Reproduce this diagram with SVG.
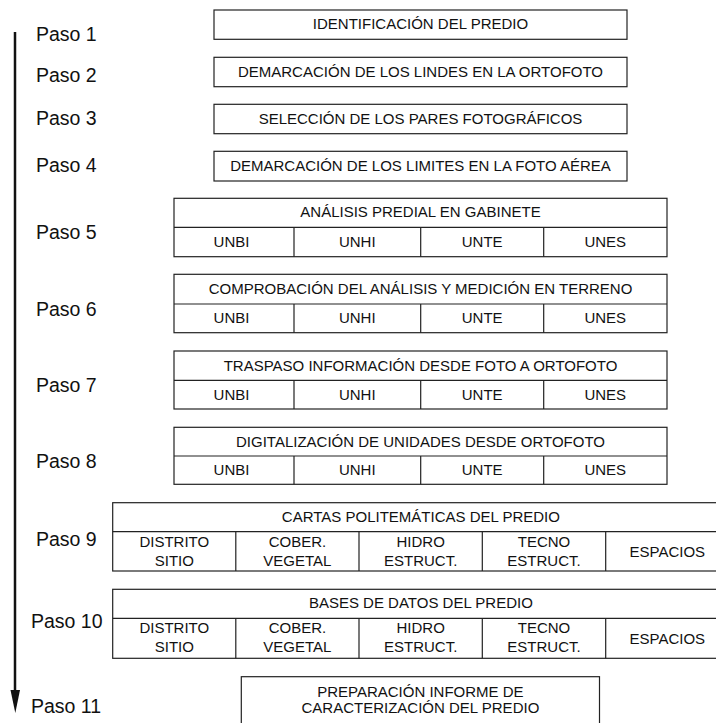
<svg xmlns="http://www.w3.org/2000/svg" width="716" height="723" viewBox="0 0 716 723">
<style>
.b{fill:#fff;stroke:#222;stroke-width:1.2}
.l{stroke:#222;stroke-width:1.2;fill:none}
.t{font-family:"Liberation Sans",Arial,sans-serif;font-size:15px;fill:#111;text-anchor:middle}
.p{font-family:"Liberation Sans",Arial,sans-serif;font-size:19.5px;fill:#111}
</style>
<defs>
<marker id="ah" markerWidth="10" markerHeight="24" refX="5" refY="23" orient="auto" markerUnits="userSpaceOnUse" viewBox="0 0 10 24">
<path d="M0,0 L10,0 L5,23 Z" fill="#111"/>
</marker>
</defs>
<rect width="716" height="723" fill="#fff"/>
<g id="connectors">
<line x1="15" y1="32" x2="15" y2="690" stroke="#111" stroke-width="2.5"/>
<path d="M10.5,690 L20,690 L15.3,713 Z" fill="#111"/>
</g>
<g id="labels">
<text class="p" x="36" y="40.5">Paso 1</text>
<text class="p" x="36" y="82.3">Paso 2</text>
<text class="p" x="36" y="125">Paso 3</text>
<text class="p" x="36" y="172.3">Paso 4</text>
<text class="p" x="36" y="239.3">Paso 5</text>
<text class="p" x="36" y="316">Paso 6</text>
<text class="p" x="36" y="391.7">Paso 7</text>
<text class="p" x="36" y="468">Paso 8</text>
<text class="p" x="36" y="546">Paso 9</text>
<text class="p" x="31" y="628">Paso 10</text>
<text class="p" x="31" y="712.7">Paso 11</text>
</g>
<g id="paso1">
<rect class="b" x="214" y="10" width="413" height="29.3"/>
<text class="t" x="420.5" y="29.3">IDENTIFICACIÓN DEL PREDIO</text>
</g>
<g id="paso2">
<rect class="b" x="214" y="57.3" width="413" height="29.4"/>
<text class="t" x="420.5" y="77.2">DEMARCACIÓN DE LOS LINDES EN LA ORTOFOTO</text>
</g>
<g id="paso3">
<rect class="b" x="214" y="104.3" width="413" height="29.4"/>
<text class="t" x="420.5" y="124.2">SELECCIÓN DE LOS PARES FOTOGRÁFICOS</text>
</g>
<g id="paso4">
<rect class="b" x="214" y="151.3" width="413" height="29.7"/>
<text class="t" x="420.5" y="171.3">DEMARCACIÓN DE LOS LIMITES EN LA FOTO AÉREA</text>
</g>
<g id="paso5">
<rect class="b" x="174" y="198.3" width="493" height="58.4"/>
<path class="l" d="M174,227.3 H667 M294,227.3 V256.7 M420.7,227.3 V256.7 M543.7,227.3 V256.7"/>
<text class="t" x="420.5" y="217.3">ANÁLISIS PREDIAL EN GABINETE</text>
<text class="t" x="231.5" y="246.5">UNBI</text>
<text class="t" x="357.3" y="246.5">UNHI</text>
<text class="t" x="482.2" y="246.5">UNTE</text>
<text class="t" x="605.3" y="246.5">UNES</text>
</g>
<g id="paso6">
<rect class="b" x="174" y="274.3" width="493" height="58.4"/>
<path class="l" d="M174,304 H667 M294,304 V332.7 M420.7,304 V332.7 M543.7,304 V332.7"/>
<text class="t" x="420.5" y="294">COMPROBACIÓN DEL ANÁLISIS Y MEDICIÓN EN TERRENO</text>
<text class="t" x="231.5" y="323">UNBI</text>
<text class="t" x="357.3" y="323">UNHI</text>
<text class="t" x="482.2" y="323">UNTE</text>
<text class="t" x="605.3" y="323">UNES</text>
</g>
<g id="paso7">
<rect class="b" x="174" y="351" width="493" height="58"/>
<path class="l" d="M174,380.3 H667 M294,380.3 V409 M420.7,380.3 V409 M543.7,380.3 V409"/>
<text class="t" x="420.5" y="370.5">TRASPASO INFORMACIÓN DESDE FOTO A ORTOFOTO</text>
<text class="t" x="231.5" y="399.5">UNBI</text>
<text class="t" x="357.3" y="399.5">UNHI</text>
<text class="t" x="482.2" y="399.5">UNTE</text>
<text class="t" x="605.3" y="399.5">UNES</text>
</g>
<g id="paso8">
<rect class="b" x="174" y="427.3" width="493" height="57"/>
<path class="l" d="M174,456 H667 M294,456 V484.3 M420.7,456 V484.3 M543.7,456 V484.3"/>
<text class="t" x="420.5" y="446.5">DIGITALIZACIÓN DE UNIDADES DESDE ORTOFOTO</text>
<text class="t" x="231.5" y="475">UNBI</text>
<text class="t" x="357.3" y="475">UNHI</text>
<text class="t" x="482.2" y="475">UNTE</text>
<text class="t" x="605.3" y="475">UNES</text>
</g>
<g id="paso9">
<rect class="b" x="112.7" y="502.7" width="616.3" height="68.3"/>
<path class="l" d="M112.7,531.7 H729 M235.8,531.7 V571 M359,531.7 V571 M482.3,531.7 V571 M605.7,531.7 V571"/>
<text class="t" x="420.9" y="521.7">CARTAS POLITEMÁTICAS DEL PREDIO</text>
<text class="t" x="174.3" y="547.3">DISTRITO</text>
<text class="t" x="174.3" y="566">SITIO</text>
<text class="t" x="297.4" y="547.3">COBER.</text>
<text class="t" x="297.4" y="566">VEGETAL</text>
<text class="t" x="420.7" y="547.3">HIDRO</text>
<text class="t" x="420.7" y="566">ESTRUCT.</text>
<text class="t" x="544" y="547.3">TECNO</text>
<text class="t" x="544" y="566">ESTRUCT.</text>
<text class="t" x="667.3" y="556.7">ESPACIOS</text>
</g>
<g id="paso10">
<rect class="b" x="112.7" y="589.3" width="616.3" height="69"/>
<path class="l" d="M112.7,618.3 H729 M235.8,618.3 V658.3 M359,618.3 V658.3 M482.3,618.3 V658.3 M605.7,618.3 V658.3"/>
<text class="t" x="420.9" y="608.3">BASES DE DATOS DEL PREDIO</text>
<text class="t" x="174.3" y="633.3">DISTRITO</text>
<text class="t" x="174.3" y="652.3">SITIO</text>
<text class="t" x="297.4" y="633.3">COBER.</text>
<text class="t" x="297.4" y="652.3">VEGETAL</text>
<text class="t" x="420.7" y="633.3">HIDRO</text>
<text class="t" x="420.7" y="652.3">ESTRUCT.</text>
<text class="t" x="544" y="633.3">TECNO</text>
<text class="t" x="544" y="652.3">ESTRUCT.</text>
<text class="t" x="667.3" y="643.5">ESPACIOS</text>
</g>
<g id="paso11">
<rect class="b" x="241.3" y="676.7" width="358.2" height="60"/>
<text class="t" x="420.4" y="697.3">PREPARACIÓN INFORME DE</text>
<text class="t" x="420.4" y="712.7">CARACTERIZACIÓN DEL PREDIO</text>
</g>
</svg>
